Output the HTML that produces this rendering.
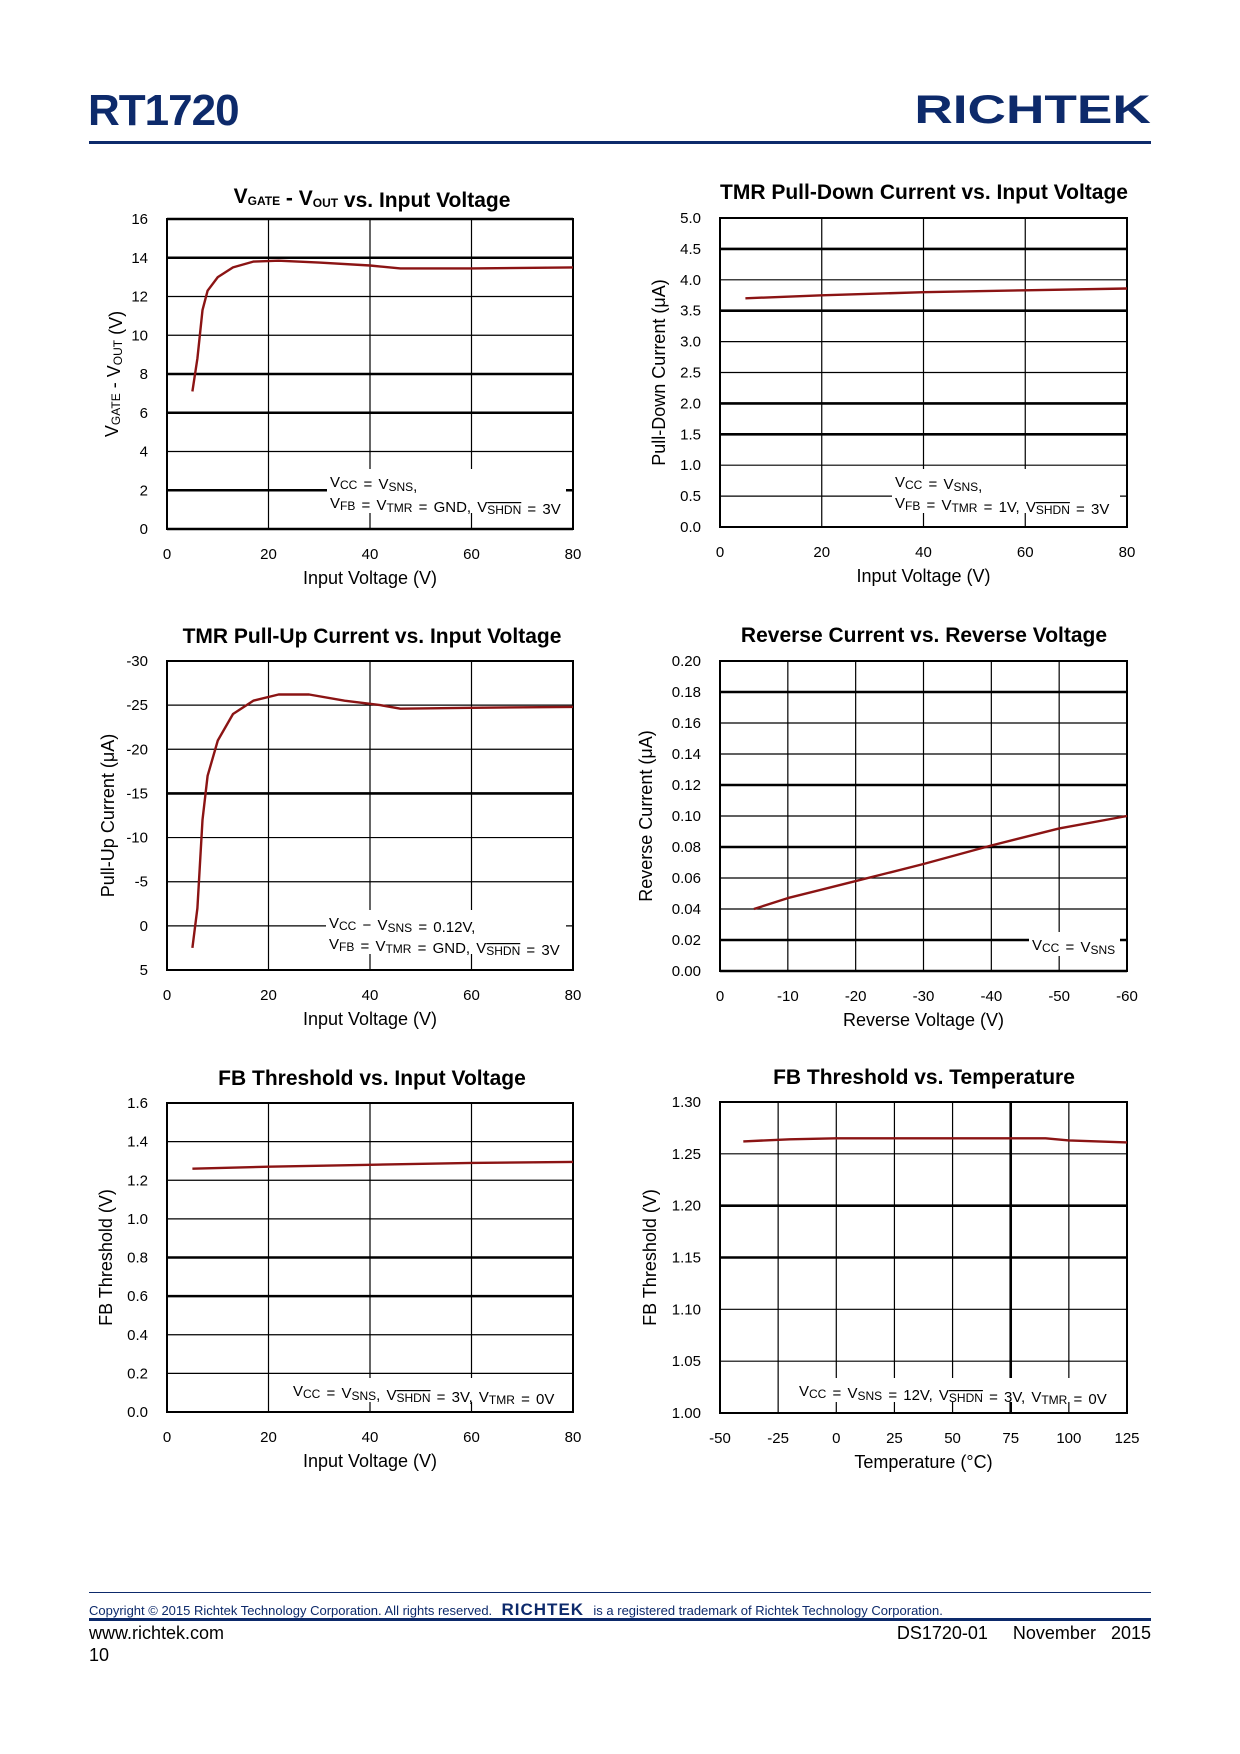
<!DOCTYPE html>
<html><head><meta charset="utf-8"><style>
body{margin:0;background:#fff;width:1240px;height:1754px;position:relative;overflow:hidden;font-family:"Liberation Sans",sans-serif}
.abs{position:absolute}
</style></head><body>
<div class="abs" style="left:88px;top:86px;font-size:44px;font-weight:bold;color:#0d2a6b;letter-spacing:-1px">RT1720</div>
<div class="abs" style="right:89px;top:88px;font-size:40px;font-weight:bold;color:#0d2a6b;transform:scaleX(1.33);transform-origin:right;line-height:44px">RICHTEK</div>
<div class="abs" style="left:89px;top:141px;width:1062px;height:3px;background:#0d2a6b"></div>
<svg id="svg" class="abs" style="left:0;top:0" width="1240" height="1754"></svg>
<div class="abs" style="left:89px;top:1592px;width:1062px;height:1px;background:#0d2a6b"></div>
<div class="abs" style="left:89px;top:1600px;font-size:13px;color:#0d2a6b;white-space:nowrap">Copyright © 2015 Richtek Technology Corporation. All rights reserved. <b style="font-size:17px;letter-spacing:1px">&nbsp;RICHTEK&nbsp;</b> is a registered trademark of Richtek Technology Corporation.</div>
<div class="abs" style="left:89px;top:1618px;width:1062px;height:3px;background:#0d2a6b"></div>
<div class="abs" style="left:89px;top:1623px;font-size:18px">www.richtek.com</div>
<div class="abs" style="left:89px;top:1645px;font-size:18px">10</div>
<div class="abs" style="right:89px;top:1623px;font-size:18px;white-space:pre">DS1720-01     November   2015</div>
<script>
const c1x=[5,6,7,8,10,13,17,22,30,40,46,60,80];
const c1y=[7.1,8.8,11.3,12.3,13,13.5,13.8,13.85,13.75,13.6,13.45,13.45,13.5];
const c2x=[5,20,40,60,80];
const c2y=[3.7,3.75,3.8,3.83,3.86];
const c3x=[5,6,7,8,10,13,17,22,28,35,42,46,60,80];
const c3y=[2.5,-2,-12,-17,-21,-24,-25.5,-26.2,-26.2,-25.5,-25,-24.6,-24.7,-24.8];
const c4x=[-5,-10,-20,-30,-40,-50,-60];
const c4y=[0.04,0.047,0.058,0.069,0.081,0.092,0.100];
const c5x=[5,20,40,60,80];
const c5y=[1.26,1.27,1.28,1.29,1.295];
const c6x=[-40,-20,0,25,50,75,90,100,125];
const c6y=[1.262,1.264,1.265,1.265,1.265,1.265,1.265,1.263,1.261];
const xt1=[0,20,40,60,80];
const yt1=[0,2,4,6,8,10,12,14,16];
const yt2=[0,0.5,1,1.5,2,2.5,3,3.5,4,4.5,5];
const yt3=[5,0,-5,-10,-15,-20,-25,-30];
const xt4=[0,-10,-20,-30,-40,-50,-60];
const yt4=[0,0.02,0.04,0.06,0.08,0.1,0.12,0.14,0.16,0.18,0.2];
const yt5=[0,0.2,0.4,0.6,0.8,1.0,1.2,1.4,1.6];
const xt6=[-50,-25,0,25,50,75,100,125];
const yt6=[1.00,1.05,1.10,1.15,1.20,1.25,1.30];
const NS='http://www.w3.org/2000/svg';
const svg=document.getElementById('svg');
function mk(t,a,p){const e=document.createElementNS(NS,t);for(const k in a)e.setAttribute(k,a[k]);(p||svg).appendChild(e);return e;}
function chart(o){
 const g=mk('g',{});
 
 
 const X=v=>o.L+(v-o.x0)/(o.x1-o.x0)*(o.R-o.L);
 const Y=v=>o.B-(v-o.y0)/(o.y1-o.y0)*(o.B-o.T);
 o.yt.forEach((v,i)=>{const th=o.thickY.includes(i);
  const l=mk('line',{x1:o.L,x2:o.R,y1:Y(v),y2:Y(v),stroke:'#000','stroke-width':th?2.6:1.2},g);
  
  
  const t=mk('text',{x:o.L-19,y:Y(v)+5,'text-anchor':'end','font-size':15},g);t.textContent=o.yf(v);
  
  });
 o.xt.forEach((v,i)=>{const th=o.thickX&&o.thickX.includes(i);
  const l=mk('line',{x1:X(v),x2:X(v),y1:o.T,y2:o.B,stroke:'#000','stroke-width':th?2.6:1.2},g);
  
  
  const t=mk('text',{x:X(v),y:o.B+30,'text-anchor':'middle','font-size':15},g);t.textContent=o.xf?o.xf(v):v;
  
  });
 const a=mk('g',{},g);
 
 
 mk('rect',{x:o.nx-3,y:o.ny-18,width:o.R-o.nx-4,height:o.nh,fill:'#fff'},a);
 o.note.forEach((h,i)=>{const t=mk('text',{x:o.nx,y:o.ny+i*21,'font-size':15,'word-spacing':'2px'},a);t.innerHTML=h;});
 const r=mk('rect',{x:o.L,y:o.T,width:o.R-o.L,height:o.B-o.T,fill:'none',stroke:'#000','stroke-width':2},g);
 
 
 let d='';o.xs.forEach((v,i)=>{d+=(i?'L':'M')+X(v).toFixed(1)+','+Y(o.ys[i]).toFixed(1);});
 const p=mk('path',{d:d,fill:'none',stroke:'#8b1414','stroke-width':2.4,'stroke-linejoin':'round'},g);
 
 
 const tt=mk('text',{x:o.tx,y:o.ty,'text-anchor':'middle','font-size':21,'font-weight':'bold'},g);tt.innerHTML=o.title;
 
 
 const xa=mk('text',{x:(o.L+o.R)/2,y:o.B+55,'text-anchor':'middle','font-size':18},g);xa.textContent=o.xl;
 
 
 const cy=(o.T+o.B)/2;
 const ya=mk('text',{x:o.yx,y:cy,'text-anchor':'middle','font-size':18,transform:`rotate(-90 ${o.yx} ${cy})`},g);ya.innerHTML=o.yl;
 
 
}
const sub=s=>`<tspan font-size="12" dy="2">${s}</tspan><tspan dy="-2"></tspan>`;
const shdn=`V<tspan font-size="12" dy="2" text-decoration="overline">SHDN</tspan><tspan dy="-2"></tspan>`;
const f1=v=>v.toFixed(1), f2=v=>v.toFixed(2);
chart({name:'chart-vgate-vout',L:167,R:573,T:219,B:529,x0:0,x1:80,y0:0,y1:16,xs:c1x,ys:c1y,xt:xt1,yt:yt1,yf:v=>v,thickY:[0,1,3,4,7,8],
 title:'V'+sub('GATE')+' - V'+sub('OUT')+' vs. Input Voltage',tx:372,ty:203,xl:'Input Voltage (V)',yl:'V'+sub('GATE')+' - V'+sub('OUT')+' (V)',yx:118,
 nx:330,ny:487,nh:44,note:['V'+sub('CC')+' = V'+sub('SNS')+',','V'+sub('FB')+' = V'+sub('TMR')+' = GND, '+shdn+' = 3V']});
chart({name:'chart-tmr-pulldown',L:720,R:1127,T:218,B:527,x0:0,x1:80,y0:0,y1:5,xs:c2x,ys:c2y,xt:xt1,yt:yt2,yf:f1,thickY:[3,4,7,9],
 title:'TMR Pull-Down Current vs. Input Voltage',tx:924,ty:199,xl:'Input Voltage (V)',yl:'Pull-Down Current (μA)',yx:665,
 nx:895,ny:487,nh:44,note:['V'+sub('CC')+' = V'+sub('SNS')+',','V'+sub('FB')+' = V'+sub('TMR')+' = 1V, '+shdn+' = 3V']});
chart({name:'chart-tmr-pullup',L:167,R:573,T:661,B:970,x0:0,x1:80,y0:5,y1:-30,xs:c3x,ys:c3y,xt:xt1,yt:yt3,yf:v=>v,thickY:[4],
 title:'TMR Pull-Up Current vs. Input Voltage',tx:372,ty:643,xl:'Input Voltage (V)',yl:'Pull-Up Current (μA)',yx:114,
 nx:329,ny:928,nh:44,note:['V'+sub('CC')+' − V'+sub('SNS')+' = 0.12V,','V'+sub('FB')+' = V'+sub('TMR')+' = GND, '+shdn+' = 3V']});
chart({name:'chart-reverse-current',L:720,R:1127,T:661,B:971,x0:0,x1:-60,y0:0,y1:0.2,xs:c4x,ys:c4y,xt:xt4,yt:yt4,yf:f2,thickY:[0,1,4,6,9],
 title:'Reverse Current vs. Reverse Voltage',tx:924,ty:642,xl:'Reverse Voltage (V)',yl:'Reverse Current (μA)',yx:652,
 nx:1032,ny:950,nh:24,note:['V'+sub('CC')+' = V'+sub('SNS')]});
chart({name:'chart-fb-threshold-vin',L:167,R:573,T:1103,B:1412,x0:0,x1:80,y0:0,y1:1.6,xs:c5x,ys:c5y,xt:xt1,yt:yt5,yf:f1,thickY:[3,4],
 title:'FB Threshold vs. Input Voltage',tx:372,ty:1085,xl:'Input Voltage (V)',yl:'FB Threshold (V)',yx:112,
 nx:293,ny:1396,nh:24,note:['V'+sub('CC')+' = V'+sub('SNS')+', '+shdn+' = 3V, V'+sub('TMR')+' = 0V']});
chart({name:'chart-fb-threshold-temp',L:720,R:1127,T:1102,B:1413,x0:-50,x1:125,y0:1,y1:1.3,xs:c6x,ys:c6y,xt:xt6,yt:yt6,yf:f2,thickY:[3,4],thickX:[5],
 title:'FB Threshold vs. Temperature',tx:924,ty:1084,xl:'Temperature (°C)',yl:'FB Threshold (V)',yx:656,
 nx:799,ny:1396,nh:24,note:['V'+sub('CC')+' = V'+sub('SNS')+' = 12V, '+shdn+' = 3V, V'+sub('TMR')+' = 0V']});
</script>
</body></html>
